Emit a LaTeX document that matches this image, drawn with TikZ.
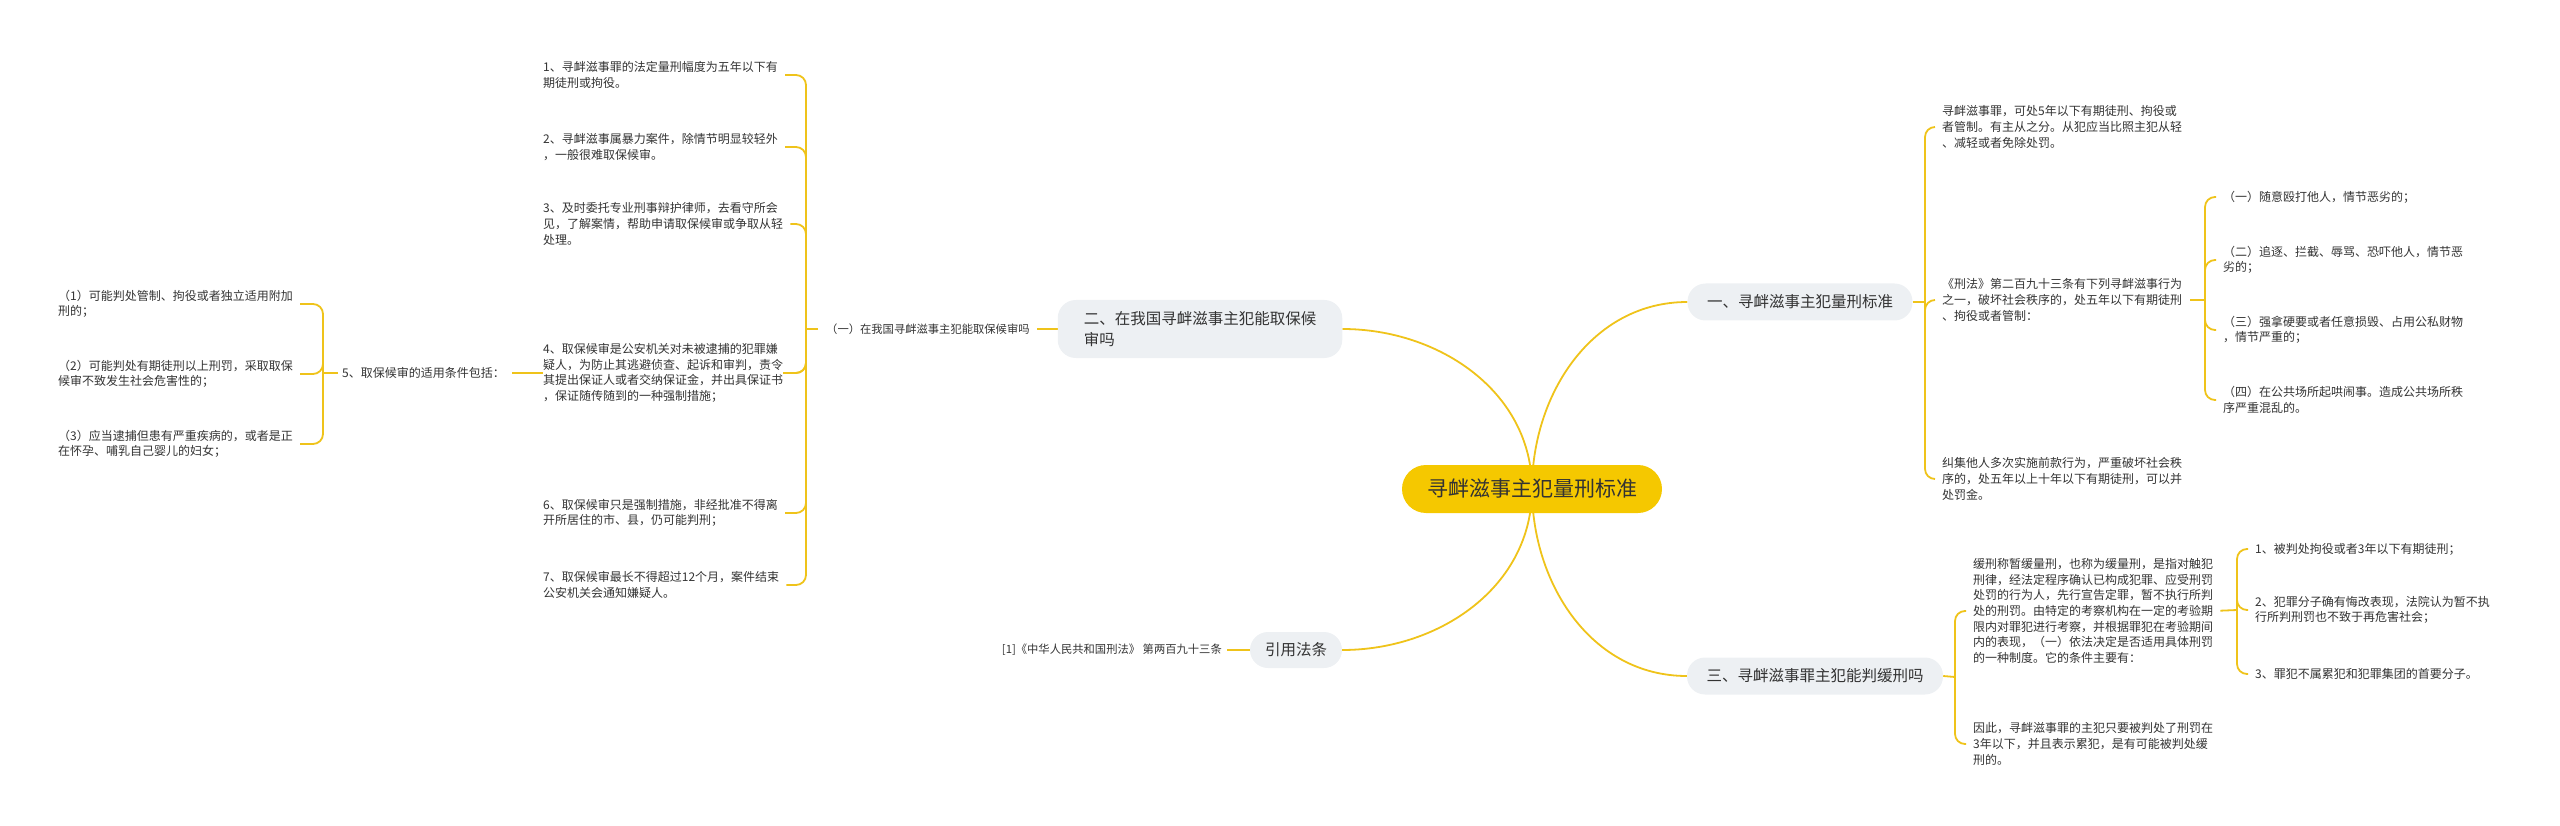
\documentclass[tikz,border=0pt]{standalone}
\usepackage{fontspec}
\newfontfamily\cjk{Noto Sans CJK SC}
\usetikzlibrary{backgrounds}
\definecolor{gold}{HTML}{F5C800}
\definecolor{stem}{HTML}{EFC31A}
\definecolor{bubble}{HTML}{EDF0F3}
\definecolor{ink}{HTML}{333333}
\tikzstyle{root} = [rectangle, rounded corners=24pt, fill=gold, text=ink, minimum width=260pt, minimum height=48pt, font=\cjk\fontsize{21}{26}\selectfont]
\tikzstyle{branch} = [rectangle, rounded corners=18pt, fill=bubble, text=ink, inner xsep=19.5pt, minimum height=37pt, align=left, font=\cjk\fontsize{15.5}{21}\selectfont]
\tikzstyle{leaf} = [anchor=west, inner sep=0pt, align=left, text=ink, font=\cjk\fontsize{12}{15.6}\selectfont]
\tikzstyle{small} = [leaf, font=\cjk\fontsize{11.3}{14}\selectfont]
\tikzstyle{link} = [draw=stem, line width=1.8pt]
\tikzstyle{twig} = [link, rounded corners=10pt, shorten >=7pt]

\begin{document}
\begin{tikzpicture}[x=1pt, y=-1pt]
\useasboundingbox (0,0) rectangle (2560,826);

% Centre
\node[root] (root) at (1532,489) {寻衅滋事主犯量刑标准};

% Branch one
\node[branch, minimum width=225pt] (one) at (1800,302) {一、寻衅滋事主犯量刑标准};
\node[leaf] (onea) at (1942,127) {寻衅滋事罪，可处5年以下有期徒刑、拘役或\\者管制。有主从之分。从犯应当比照主犯从轻\\、减轻或者免除处罚。};
\node[leaf] (oneb) at (1942,300) {《刑法》第二百九十三条有下列寻衅滋事行为\\之一，破坏社会秩序的，处五年以下有期徒刑\\、拘役或者管制：};
\node[leaf] (onec) at (1942,479) {纠集他人多次实施前款行为，严重破坏社会秩\\序的，处五年以上十年以下有期徒刑，可以并\\处罚金。};
\coordinate (hubone) at (1925,302);

% Acts under article 293
\node[leaf] (act1) at (2223,197) {（一）随意殴打他人，情节恶劣的；};
\node[leaf] (act2) at (2223,260) {（二）追逐、拦截、辱骂、恐吓他人，情节恶\\劣的；};
\node[leaf] (act3) at (2223,330) {（三）强拿硬要或者任意损毁、占用公私财物\\，情节严重的；};
\node[leaf] (act4) at (2223,400) {（四）在公共场所起哄闹事。造成公共场所秩\\序严重混乱的。};
\coordinate (hubact) at (2205,300);

% Branch three
\node[branch, minimum width=256pt] (three) at (1815,676) {三、寻衅滋事罪主犯能判缓刑吗};
\node[leaf] (threea) at (1973,611) {缓刑称暂缓量刑，也称为缓量刑，是指对触犯\\刑律，经法定程序确认已构成犯罪、应受刑罚\\处罚的行为人，先行宣告定罪，暂不执行所判\\处的刑罚。由特定的考察机构在一定的考验期\\限内对罪犯进行考察，并根据罪犯在考验期间\\内的表现，（一）依法决定是否适用具体刑罚\\的一种制度。它的条件主要有：};
\node[leaf] (threeb) at (1973,744) {因此，寻衅滋事罪的主犯只要被判处了刑罚在\\3年以下，并且表示累犯，是有可能被判处缓\\刑的。};
\coordinate (hubthree) at (1955,677);

% Conditions for probation
\node[leaf] (cond1) at (2255,549) {1、被判处拘役或者3年以下有期徒刑；};
\node[leaf] (cond2) at (2255,610) {2、犯罪分子确有悔改表现，法院认为暂不执\\行所判刑罚也不致于再危害社会；};
\node[leaf] (cond3) at (2255,674) {3、罪犯不属累犯和犯罪集团的首要分子。};
\coordinate (hubcond) at (2237,610);

% Branch two
\node[branch, inner xsep=26pt, minimum height=58pt] (two) at (1200,329) {二、在我国寻衅滋事主犯能取保候\\审吗};
\node[small] (bail) at (826,329) {（一）在我国寻衅滋事主犯能取保候审吗};
\coordinate (hubbail) at (806,329);

% Bail items
\node[leaf] (item1) at (543,75) {1、寻衅滋事罪的法定量刑幅度为五年以下有\\期徒刑或拘役。};
\node[leaf] (item2) at (543,147) {2、寻衅滋事属暴力案件，除情节明显较轻外\\，一般很难取保候审。};
\node[leaf] (item3) at (543,224) {3、及时委托专业刑事辩护律师，去看守所会\\见，了解案情，帮助申请取保候审或争取从轻\\处理。};
\node[leaf] (item5) at (342,373) {5、取保候审的适用条件包括：};
\node[leaf, fill=white] (item4) at (543,373) {4、取保候审是公安机关对未被逮捕的犯罪嫌\\疑人，为防止其逃避侦查、起诉和审判，责令\\其提出保证人或者交纳保证金，并出具保证书\\，保证随传随到的一种强制措施；};
\node[leaf] (item6) at (543,513) {6、取保候审只是强制措施，非经批准不得离\\开所居住的市、县，仍可能判刑；};
\node[leaf] (item7) at (543,585) {7、取保候审最长不得超过12个月，案件结束\\公安机关会通知嫌疑人。};

% Conditions for bail
\node[leaf] (rule1) at (58,304) {（1）可能判处管制、拘役或者独立适用附加\\刑的；};
\node[leaf] (rule2) at (58,374) {（2）可能判处有期徒刑以上刑罚，采取取保\\候审不致发生社会危害性的；};
\node[leaf] (rule3) at (58,444) {（3）应当逮捕但患有严重疾病的，或者是正\\在怀孕、哺乳自己婴儿的妇女；};
\coordinate (hubrule) at (323,373);

% Cited law
\node[branch, inner xsep=15pt, minimum height=36pt] (cite) at (1296,650) {引用法条};
\node[small, anchor=east] (law) at (1222,650) {[1]《中华人民共和国刑法》 第两百九十三条};

% Connectors
\begin{scope}[on background layer]
\draw[link] (root.center) to[out=90, in=180] (one.west);
\draw[link] (root.center) to[out=-90, in=180] (three.west);
\draw[link] (root.center) to[out=90, in=0] (two.east);
\draw[link] (root.center) to[out=-90, in=0] (cite.east);

\draw[link] (one.east) -- (hubone);
\draw[twig] (hubone) |- (onea.west);
\draw[twig] (hubone) |- (oneb.west);
\draw[twig] (hubone) |- (onec.west);

\draw[link, shorten <=8pt] (oneb.east) -- (hubact);
\draw[twig] (hubact) |- (act1.west);
\draw[twig] (hubact) |- (act2.west);
\draw[twig] (hubact) |- (act3.west);
\draw[twig] (hubact) |- (act4.west);

\draw[link] (three.east) -- (hubthree);
\draw[twig] (hubthree) |- (threea.west);
\draw[twig] (hubthree) |- (threeb.west);

\draw[link, shorten <=7pt] (threea.east) -- (hubcond);
\draw[twig] (hubcond) |- (cond1.west);
\draw[twig] (hubcond) |- (cond2.west);
\draw[twig] (hubcond) |- (cond3.west);

\draw[link, shorten >=7pt] (two.west) -- (bail.east);
\draw[link, shorten <=8pt] (bail.west) -- (hubbail);
\draw[twig] (hubbail) |- (item1.east);
\draw[twig] (hubbail) |- (item2.east);
\draw[twig] (hubbail) |- (item3.east);
\draw[twig] (hubbail) |- (item4.east);
\draw[twig] (hubbail) |- (item5.east);
\draw[twig] (hubbail) |- (item6.east);
\draw[twig] (hubbail) |- (item7.east);

\draw[link, shorten <=4pt] (item5.west) -- (hubrule);
\draw[twig] (hubrule) |- (rule1.east);
\draw[twig] (hubrule) |- (rule2.east);
\draw[twig] (hubrule) |- (rule3.east);

\draw[link, shorten >=5pt] (cite.west) -- (law.east);
\end{scope}

\end{tikzpicture}
\end{document}
